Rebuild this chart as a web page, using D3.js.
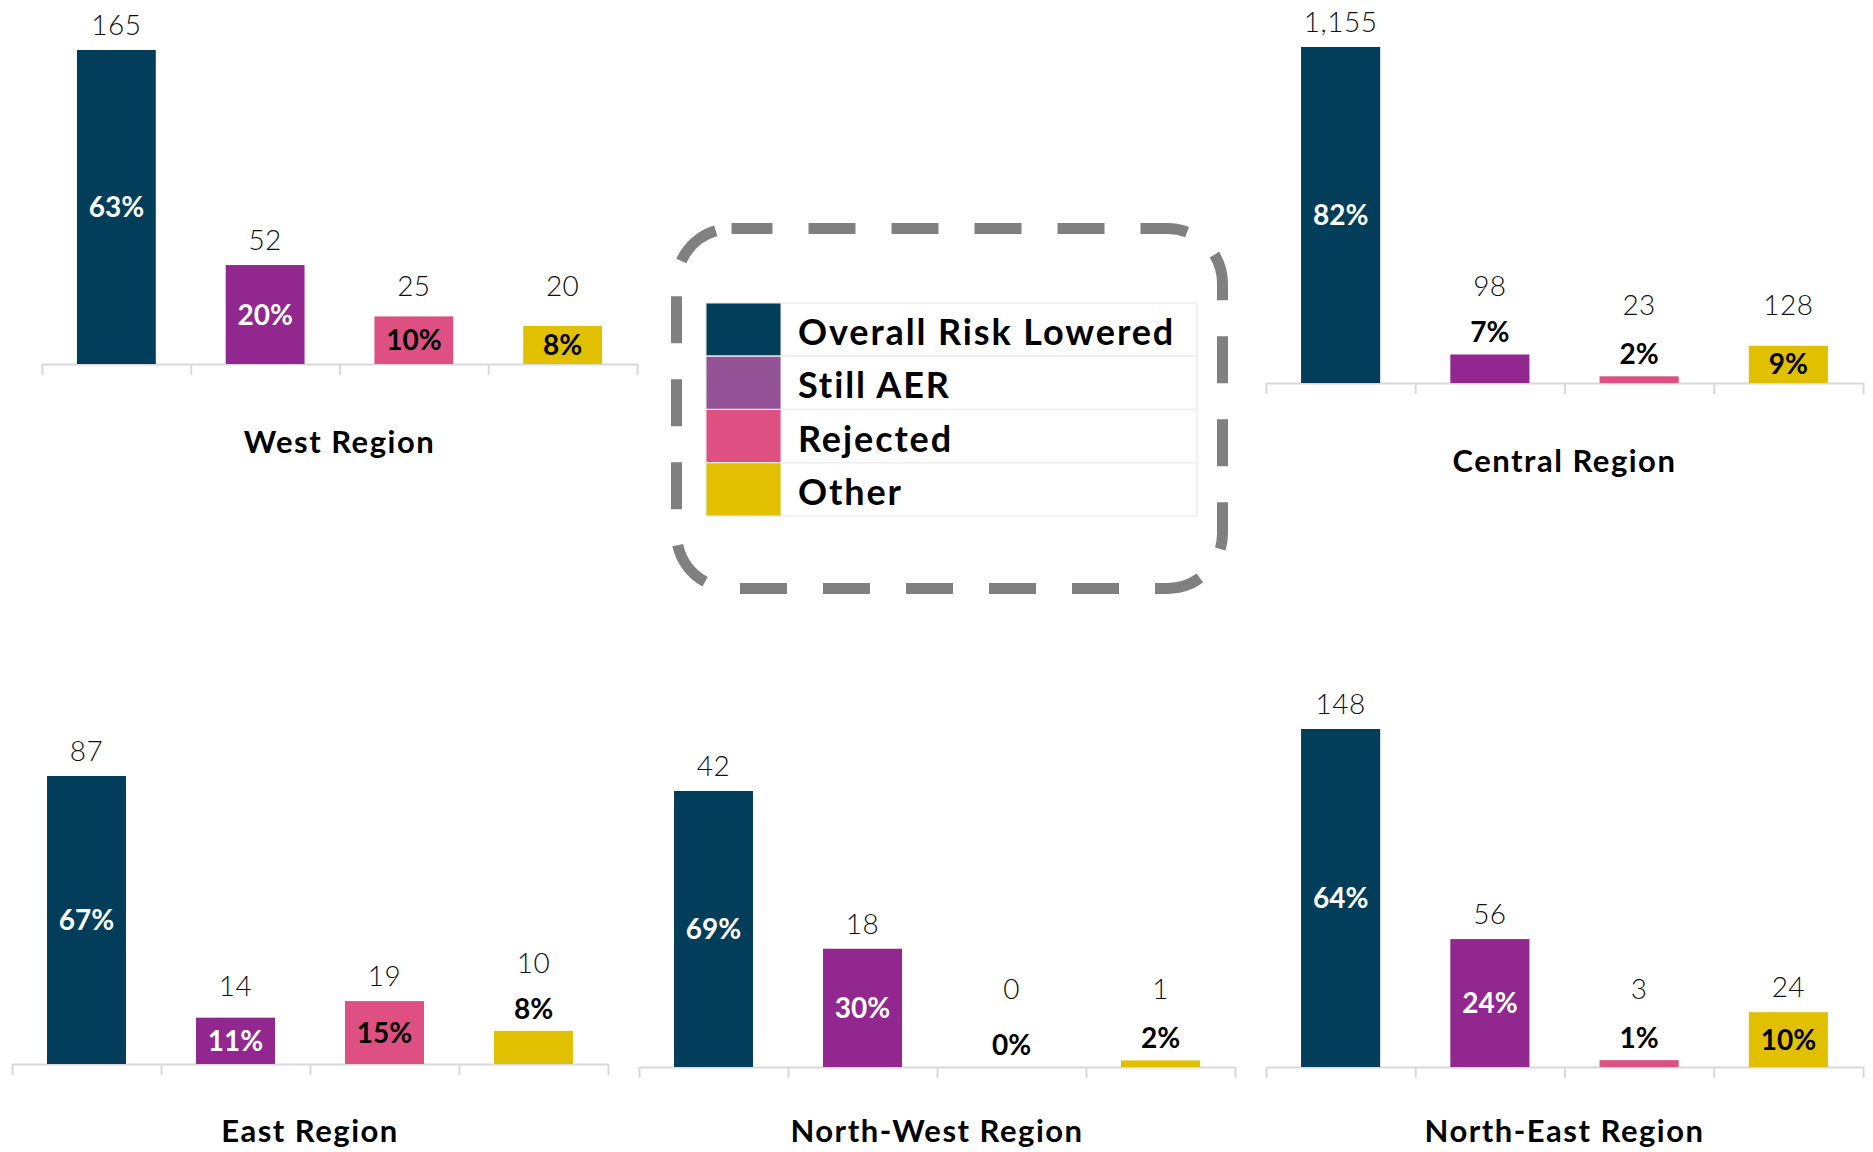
<!DOCTYPE html>
<html>
<head>
<meta charset="utf-8">
<script src="https://cdn.jsdelivr.net/npm/d3@7"></script>
<style>
  body { margin: 0; background: #fff; }
  svg { display: block; font-family: Lato, "Open Sans", sans-serif; }
</style>
</head>
<body>
<svg id="chart" width="1873" height="1152"></svg>
<script>
// data ------------------------------------------------------------
var categories = ['Overall Risk Lowered', 'Still AER', 'Rejected', 'Other'];
var regions = ['West Region', 'Central Region', 'East Region', 'North-West Region', 'North-East Region'];

var westCounts    = [165, 52, 25, 20],    westPct    = [63, 20, 10, 8];
var centralCounts = [1155, 98, 23, 128],  centralPct = [82, 7, 2, 9];
var eastCounts    = [87, 14, 19, 10],     eastPct    = [67, 11, 15, 8];
var nwCounts      = [42, 18, 0, 1],       nwPct      = [69, 30, 0, 2];
var neCounts      = [148, 56, 3, 24],     nePct      = [64, 24, 1, 10];

var counts = [westCounts, centralCounts, eastCounts, nwCounts, neCounts];
var pcts   = [westPct, centralPct, eastPct, nwPct, nePct];

// styles / layout ---------------------------------------------------
var barColors    = ['#023e5a', '#92278f', '#dd5081', '#e0c000'];
var legendColors = ['#023e5a', '#935196', '#dd5081', '#e0c000'];
var pctInk       = ['#fff', '#fff', '#000', '#000'];

// each panel: axis x range, axis y, y of tallest bar, title baseline
var layout = [
    {x0: 42,   x1: 637,  axisY: 364,  topY: 50,  titleY: 453},
    {x0: 1266, x1: 1863, axisY: 383,  topY: 47,  titleY: 472},
    {x0: 12,   x1: 608,  axisY: 1064, topY: 776, titleY: 1142},
    {x0: 639,  x1: 1235, axisY: 1067, topY: 791, titleY: 1142},
    {x0: 1266, x1: 1863, axisY: 1067, topY: 729, titleY: 1142}
];

var svg = d3.select('#chart');
var fmt = d3.format(',');
var pctSize = 28, cntSize = 28;

regions.forEach(function(name, r){
    var L = layout[r];
    var vals = counts[r];
    var g = svg.append('g');

    var x = d3.scaleBand()
        .domain(d3.range(categories.length))
        .range([L.x0, L.x1])
        .paddingInner(0.47)
        .paddingOuter(0.235);
    var y = d3.scaleLinear()
        .domain([0, d3.max(vals)])
        .range([L.axisY, L.topY]);

    // category axis: line with ticks between the categories
    var tickScale = d3.scaleLinear().domain([0, 4]).range([L.x0, L.x1]);
    var ax = g.append('g')
        .attr('transform', 'translate(0,' + L.axisY + ')')
        .call(d3.axisBottom(tickScale).tickValues([0, 1, 2, 3, 4]).tickSize(11).tickSizeOuter(0).tickFormat(''));
    ax.selectAll('path, line').attr('stroke', '#d9d9d9').attr('stroke-width', 2);

    g.selectAll('rect.bar')
        .data(vals)
        .join('rect')
        .attr('class', 'bar')
        .attr('x', function(d, i){ return x(i) })
        .attr('width', x.bandwidth())
        .attr('y', function(d){ return y(d) })
        .attr('height', function(d){ return L.axisY - y(d) })
        .attr('fill', function(d, i){ return barColors[i] });

    vals.forEach(function(v, i){
        var cx = x(i) + x.bandwidth() / 2;
        var top = y(v);
        var h = L.axisY - top;
        var inside = h >= 35;
        var pctY, cntY;
        if(inside){
            pctY = top + h / 2 + pctSize * 0.36;
            cntY = top - 15;
        } else {
            pctY = top - 12;
            cntY = pctY - pctSize * 0.72 - 26;
        }
        cntY = Math.min(cntY, L.axisY - 68);

        g.append('text')
            .attr('x', cx).attr('y', pctY)
            .attr('text-anchor', 'middle')
            .style('font-size', pctSize + 'px')
            .style('font-weight', 700)
            .attr('fill', inside ? pctInk[i] : '#000')
            .text(pcts[r][i] + '%');
        g.append('text')
            .attr('x', cx).attr('y', cntY)
            .attr('text-anchor', 'middle')
            .style('font-size', cntSize + 'px')
            .style('font-weight', 300)
            .style('letter-spacing', '0.5px')
            .attr('fill', '#111')
            .text(fmt(v));
    });

    g.append('text')
        .attr('x', (L.x0 + L.x1) / 2)
        .attr('y', L.titleY)
        .attr('text-anchor', 'middle')
        .style('font-size', '31px')
        .style('font-weight', 700)
        .style('letter-spacing', '1.5px')
        .attr('fill', '#000')
        .text(name);
});

// LEGEND ------------------------------------------------------------
var leg = svg.append('g');
leg.append('rect')
    .attr('x', 676.5).attr('y', 228.5)
    .attr('width', 546).attr('height', 360)
    .attr('rx', 55).attr('ry', 55)
    .attr('fill', 'none')
    .attr('stroke', '#808080')
    .attr('stroke-width', 11)
    .attr('stroke-dasharray', '47 36')
    .attr('stroke-dashoffset', 6);

var rowY = d3.scaleBand().domain(d3.range(categories.length)).range([303, 516]);
var rows = leg.selectAll('g.row')
    .data(categories)
    .join('g')
    .attr('class', 'row')
    .attr('transform', function(d, i){ return 'translate(706,' + rowY(i) + ')' });

rows.append('rect')
    .attr('width', 491).attr('height', rowY.bandwidth())
    .attr('fill', '#fff')
    .attr('stroke', '#eeeeee')
    .attr('stroke-width', 1.5);
rows.append('rect')
    .attr('width', 75).attr('height', rowY.bandwidth())
    .attr('fill', function(d, i){ return legendColors[i] })
    .attr('stroke', '#eeeeee')
    .attr('stroke-width', 1);
rows.append('text')
    .attr('x', 92)
    .attr('y', 42)
    .style('font-size', '36px')
    .style('font-weight', 700)
    .style('letter-spacing', '1.9px')
    .attr('fill', '#000')
    .text(function(d){ return d });
</script>
</body>
</html>
